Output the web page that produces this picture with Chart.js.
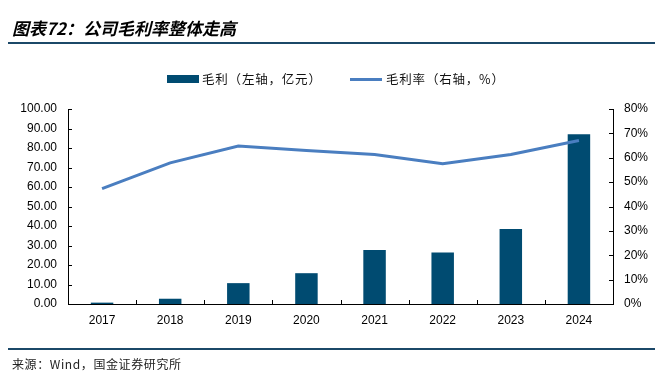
<!DOCTYPE html>
<html>
<head>
<meta charset="utf-8">
<script src="https://cdn.jsdelivr.net/npm/chart.js@4/dist/chart.umd.min.js"></script>
<style>
  body { margin: 0; background: #fff; }
  #wrap { position: relative; width: 658px; height: 379px; overflow: hidden; }
  #chart-grafico { position: absolute; left: 0; top: 0; }
  .txt { position: absolute; font-family: "Noto Sans CJK SC", sans-serif; white-space: nowrap; color: #000; }
  #titulo { left: 12px; top: 17px; font-size: 17px; font-weight: bold; font-style: italic; line-height: 22px; }
  #fuente { left: 12px; top: 356px; font-size: 12px; letter-spacing: 0.6px; line-height: 16px; color: #222; }
  .regla { position: absolute; left: 8px; width: 647px; height: 2px; background: #1b4868; }
  .sw { position: absolute; }
  .ley { font-size: 12.5px; letter-spacing: 0.8px; line-height: 16px; top: 71px; color: #111; }
</style>
</head>
<body>
<div id="wrap">
  <canvas id="chart-grafico" width="658" height="379"></canvas>
  <div class="txt" id="titulo">图表72：公司毛利率整体走高</div>
  <div class="regla" style="top:42px"></div>
  <div class="sw" style="left:167px; top:75px; width:32px; height:8px; background:#004b71"></div>
  <div class="txt ley" style="left:202px">毛利（左轴，亿元）</div>
  <div class="sw" style="left:350px; top:78px; width:32px; height:3px; background:#4a7ec0"></div>
  <div class="txt ley" style="left:386px">毛利率（右轴，%）</div>
  <div class="regla" style="top:348px"></div>
  <div class="txt" id="fuente">来源：Wind，国金证券研究所</div>
</div>
<script>
const anios = ['2017', '2018', '2019', '2020', '2021', '2022', '2023', '2024'];
const margenBruto = [0.7, 2.7, 10.7, 15.8, 27.7, 26.4, 38.5, 87.1];      // 亿元
const tasaMargen = [47.3, 57.9, 64.8, 63.0, 61.3, 57.5, 61.3, 67.1];     // %
const etiquetaBarra = '毛利（左轴，亿元）';
const etiquetaLinea = '毛利率（右轴，%）';

// ticks hacia dentro, como en el original
const ticksAdentro = {
    id: 'ticksAdentro',
    afterDraw(chart) {
        const { ctx, chartArea: a, scales } = chart;
        ctx.save();
        ctx.strokeStyle = '#000';
        ctx.lineWidth = 1;
        ctx.beginPath();
        scales.y.ticks.forEach((t, i) => {
            const py = Math.round(scales.y.getPixelForTick(i)) + 0.5;
            ctx.moveTo(a.left, py); ctx.lineTo(a.left + 4, py);
        });
        scales.y1.ticks.forEach((t, i) => {
            const py = Math.round(scales.y1.getPixelForTick(i)) + 0.5;
            ctx.moveTo(a.right, py); ctx.lineTo(a.right - 4, py);
        });
        const n = anios.length;
        for (let i = 1; i < n; i++) {
            const px = Math.round((scales.x.getPixelForValue(i - 1) + scales.x.getPixelForValue(i)) / 2) + 0.5;
            ctx.moveTo(px, a.bottom); ctx.lineTo(px, a.bottom - 4);
        }
        ctx.stroke();
        ctx.restore();
    }
};

const fuenteEje = { family: 'Liberation Sans, Arial, sans-serif', size: 12 };

const ctx = document.getElementById('chart-grafico');
new Chart(ctx, {
    data: {
        labels: anios,
        datasets: [
            {
                type: 'line',
                label: etiquetaLinea,
                data: tasaMargen,
                yAxisID: 'y1',
                borderColor: '#4a7ec0',
                borderWidth: 3,
                pointRadius: 0,
                tension: 0,
                order: 0
            },
            {
                type: 'bar',
                label: etiquetaBarra,
                data: margenBruto,
                yAxisID: 'y',
                backgroundColor: '#004b71',
                barPercentage: 0.33,
                categoryPercentage: 1,
                order: 1
            }
        ]
    },
    options: {
        responsive: false,
        animation: false,
        layout: { padding: { top: 109, left: 0, right: 0, bottom: 0 } },
        plugins: { legend: { display: false }, tooltip: { enabled: false } },
        scales: {
            x: {
                grid: { display: false, drawTicks: false },
                border: { color: '#000', width: 1 },
                ticks: { color: '#000', font: fuenteEje, padding: 9, maxRotation: 0 },
                afterFit: s => { s.height = 75; }
            },
            y: {
                position: 'left',
                min: 0, max: 100,
                grid: { display: false, drawTicks: false },
                border: { color: '#000', width: 1 },
                ticks: { stepSize: 10, color: '#000', font: fuenteEje, padding: 11, callback: v => v.toFixed(2) },
                afterFit: s => { s.width = 68; }
            },
            y1: {
                position: 'right',
                min: 0, max: 80,
                grid: { display: false, drawTicks: false },
                border: { color: '#000', width: 1 },
                ticks: { stepSize: 10, color: '#000', font: fuenteEje, padding: 11, callback: v => v + '%' },
                afterFit: s => { s.width = 45; }
            }
        }
    },
    plugins: [ticksAdentro]
});
</script>
</body>
</html>
